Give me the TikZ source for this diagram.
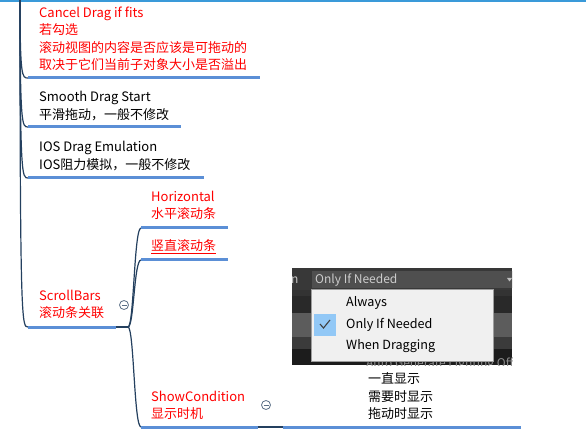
\documentclass[tikz,border=0pt]{standalone}
\usepackage{fontspec}
\setmainfont{Noto Sans CJK SC}
\usetikzlibrary{positioning}
\definecolor{colline}{HTML}{5B8FD6}
\definecolor{colbranch}{HTML}{24405F}
\definecolor{coltop}{HTML}{3A9AD9}
\definecolor{colred}{HTML}{FF0000}
\definecolor{colmenu}{HTML}{F0F0F0}
\definecolor{colpick}{HTML}{92C8F6}
\begin{document}
\begin{tikzpicture}[x=1pt,y=-1pt,
    every node/.style={font=\fontsize{13}{17.5}\selectfont, inner sep=0pt},
    topic/.style={anchor=south west, align=left, text=colred},
    plain/.style={anchor=south west, align=left, text=black},
    uline/.style={colline, line width=3pt},
    branch/.style={colbranch, line width=1.2pt},
    fold/.style={draw=colbranch!75, fill=white, circle, minimum size=9pt, line width=0.8pt},
    shot/.style={font=\fontsize{12}{14}\selectfont, anchor=west},
    item/.style={font=\fontsize{12.6}{14}\selectfont, anchor=west}]
  \useasboundingbox (0,0) rectangle (586,430);
  \fill[white] (0,0) rectangle (586,430);
  \draw[coltop, line width=2pt] (0,1) -- (586,1);

  % main trunk
  \coordinate (root) at (20,-5);
  \foreach \n/\y/\e in {cancel/78/260, smooth/127/181, ios/178/204, bars/327/116} {
    \coordinate (\n L) at (28,\y);
    \coordinate (\n R) at (\e,\y);
    \draw[branch] (root) .. controls (20,\y) and (22,\y) .. (\n L);
    \draw[uline] (\n L) -- (\n R);
  }
  \node[topic] (cancel) at (39,71) {Cancel Drag if fits\\若勾选\\滚动视图的内容是否应该是可拖动的\\取决于它们当前子对象大小是否溢出};
  \node[plain] (smooth) at (39,121) {Smooth Drag Start\\平滑拖动，一般不修改};
  \node[plain] (ios) at (39,171) {IOS Drag Emulation\\IOS阻力模拟，一般不修改};
  \node[topic] (bars) at (39,319) {ScrollBars\\滚动条关联};

  % scrollbars children
  \coordinate (hub) at (128,327);
  \draw[branch] (barsR) -- (hub);
  \foreach \n/\y/\e in {horiz/228/228, vert/260/228, show/427/258} {
    \coordinate (\n L) at (141,\y);
    \coordinate (\n R) at (\e,\y);
    \draw[branch] (hub) .. controls (134,327) and (134,\y) .. (\n L);
    \draw[uline] (\n L) -- (\n R);
  }
  \node[topic] (horiz) at (151,220) {Horizontal\\水平滚动条};
  \node[topic] (vert) at (151,252) {竖直滚动条};
  \draw[colred, line width=0.7pt] ([yshift=-1.5pt]vert.south west) -- ([yshift=-1.5pt]vert.south east);
  \node[topic] (show) at (151,420) {ShowCondition\\显示时机};

  \coordinate (modeL) at (283,427);
  \coordinate (modeR) at (521,427);
  \draw[branch] (showR) -- (modeL);
  \draw[uline] (modeL) -- (modeR);
  \node[plain] (mode) at (368,420) {一直显示\\需要时显示\\拖动时显示};

  \node[fold] (barsfold) at (124,305) {};
  \draw[colbranch!75, line width=0.8pt] ([xshift=-2.5pt]barsfold.center) -- ([xshift=2.5pt]barsfold.center);
  \node[fold] (showfold) at (266,405) {};
  \draw[colbranch!75, line width=0.8pt] ([xshift=-2.5pt]showfold.center) -- ([xshift=2.5pt]showfold.center);

  % screenshot of the dropdown
  \begin{scope}
    \clip (292,268) rectangle (512,365);
    \fill[black!82] (292,268) rectangle (512,365);
    \fill[black!78] (292,268) rectangle (512,290);
    \fill[black!80] (292,290) rectangle (512,296);
    \fill[black!84] (292,296) rectangle (512,313);
    \fill[black!64] (292,313) rectangle (512,337);
    \fill[black!77] (292,337) rectangle (512,349);
    \fill[black!89] (292,349) rectangle (512,365);
    \fill[black!69] (312,271.5) rectangle (514,288);
    \node[shot, text=black!22] (fieldn) at (291,280) {n};
    \node[shot, text=black!20] (field) at (315,280) {Only If Needed};
    \fill[black!25] (507,278) -- (512,278) -- (509.5,281.5) -- cycle;
    \node[shot, anchor=north west, text=black!45] (lighting) at (366,358) {Auto Generate Lighting Off};
  \end{scope}
  \draw[black!38, fill=colmenu] (311,289) rectangle (493,361);
  \fill[colpick] (314,314) rectangle (336,336);
  \draw[black!75, line width=1.1pt] (320,324) -- (323.5,328) -- (330,320);
  \node[item] (always) at (346,302.5) {Always};
  \node[item] (needed) at (346,324.5) {Only If Needed};
  \node[item] (dragging) at (346,346.5) {When Dragging};
\end{tikzpicture}
\end{document}
